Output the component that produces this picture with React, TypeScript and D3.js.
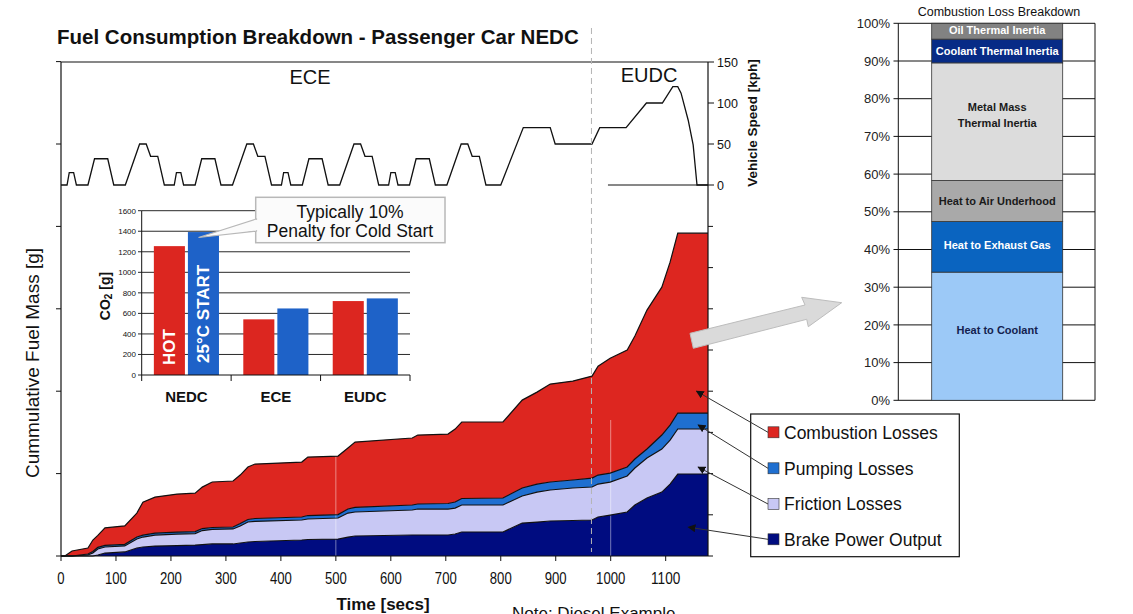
import React from 'react';
import * as d3 from 'd3';

const FONT = "'Liberation Sans', Arial, Helvetica, sans-serif";

// ---- Main chart: cumulative fuel mass breakdown (time [s], layer mass in chart units)
const times = [0, 7, 20, 49, 58, 67, 80, 116, 138, 149, 171, 211, 244, 257, 275, 313, 326, 340, 353, 438, 449, 504, 522, 535, 639, 649, 704, 717, 729, 804, 839, 866, 890, 931, 966, 977, 999, 1030, 1044, 1066, 1093, 1108, 1122, 1177];
const brakePower = [0, 0, 0, 0, 0, 1.2, 3.6, 4.9, 9.7, 10.9, 12.1, 12.7, 13.3, 13.9, 14.6, 14.6, 15.8, 17.0, 17.6, 19.4, 20.0, 20.6, 23.0, 24.3, 25.5, 25.5, 25.5, 26.7, 29.1, 29.1, 40.0, 41.2, 42.5, 43.1, 43.7, 47.3, 49.7, 53.4, 61.9, 70.4, 77.6, 87.3, 99.5, 99.5];
const frictionLosses = [0, 0, 0, 1.2, 3.6, 7.3, 7.3, 7.3, 10.9, 12.1, 13.3, 13.9, 13.9, 17.0, 17.6, 18.2, 20.6, 24.3, 24.3, 24.3, 24.9, 25.5, 29.1, 29.1, 30.3, 31.5, 31.5, 31.5, 32.8, 32.8, 32.8, 36.4, 37.6, 39.4, 40.0, 40.0, 40.0, 43.7, 44.9, 48.5, 52.2, 53.4, 54.6, 54.6];
const pumpingLosses = [0, 0, 0, 1.2, 1.8, 2.0, 2.0, 2.0, 2.4, 2.4, 2.4, 2.4, 2.4, 2.4, 2.4, 2.4, 3.0, 3.0, 3.6, 3.6, 4.2, 4.2, 4.9, 5.5, 6.1, 6.1, 6.7, 7.3, 7.9, 8.5, 9.7, 9.7, 9.7, 9.7, 10.9, 10.9, 10.9, 10.9, 10.9, 10.9, 17.0, 18.2, 19.4, 19.4];
const combustionLosses = [0, 0, 6.1, 7.3, 14.0, 14.6, 21.2, 22.4, 29.1, 40.0, 43.7, 46.1, 46.7, 50.3, 55.2, 55.8, 58.8, 63.7, 66.1, 66.7, 71.0, 71.0, 74.0, 79.4, 81.3, 83.7, 84.3, 88.5, 92.8, 92.2, 106.7, 111.6, 118.9, 120.1, 123.7, 132.2, 139.5, 141.9, 149.2, 168.6, 179.5, 197.7, 218.3, 218.3];

const seriesKeys = ['brake', 'friction', 'pumping', 'combustion'];
const seriesNames = ['Brake Power Output', 'Friction Losses', 'Pumping Losses', 'Combustion Losses'];
const seriesColors = ['#000C80', '#C8C8F4', '#1F6FD0', '#DD2620'];

// ---- Vehicle speed profile (NEDC)
const speedTime = [0, 11, 15, 23, 28, 49, 61, 85, 96, 117, 143, 155, 163, 176, 188, 195,
  206, 210, 218, 223, 244, 256, 280, 291, 312, 338, 350, 358, 371, 383, 390,
  401, 405, 413, 418, 439, 451, 475, 486, 507, 533, 545, 553, 566, 578, 585,
  596, 600, 608, 613, 634, 646, 670, 681, 702, 728, 740, 748, 761, 773, 780,
  800, 841, 890, 899, 966, 980, 1028, 1065, 1094, 1113, 1122, 1128, 1141, 1150, 1157, 1177];
const speedKph = [0, 0, 15, 15, 0, 0, 32, 32, 0, 0, 50, 50, 35, 35, 0, 0,
  0, 15, 15, 0, 0, 32, 32, 0, 0, 50, 50, 35, 35, 0, 0,
  0, 15, 15, 0, 0, 32, 32, 0, 0, 50, 50, 35, 35, 0, 0,
  0, 15, 15, 0, 0, 32, 32, 0, 0, 50, 50, 35, 35, 0, 0,
  0, 70, 70, 50, 50, 70, 70, 100, 100, 120, 120, 112, 79, 49, 0, 0];
const speedTicks = [0, 50, 100, 150];
const timeTicks = [0, 100, 200, 300, 400, 500, 600, 700, 800, 900, 1000, 1100];
const cycleBoundary = 965;
const gridTimes = [500, 1000];

// ---- Inset: CO2 per cycle
const co2Cycles = ['NEDC', 'ECE', 'EUDC'];
const co2Hot = [1255, 542, 720];
const co2Cold = [1392, 648, 746];
const co2Ticks = [0, 200, 400, 600, 800, 1000, 1200, 1400, 1600];

// ---- Right: combustion loss breakdown (%)
const lossCategories = ['Heat to Coolant', 'Heat to Exhaust Gas', 'Heat to Air Underhood', 'Metal Mass Thermal Inertia', 'Coolant Thermal Inertia', 'Oil Thermal Inertia'];
const lossShares = [34.0, 13.4, 10.9, 31.2, 6.3, 4.2];
const lossLabelLines = [['Heat to Coolant'], ['Heat to Exhaust Gas'], ['Heat to Air Underhood'], ['Metal Mass', 'Thermal Inertia'], ['Coolant Thermal Inertia'], ['Oil Thermal Inertia']];
const lossColors = ['#9CC9F7', '#0A64C0', '#A9A9A9', '#DCDCDC', '#072B86', '#828282'];
const lossTextColors = ['#14224F', '#FFFFFF', '#1A1A1A', '#1A1A1A', '#FFFFFF', '#FFFFFF'];
const lossLabelDy = [-6, -2, 0, -7, 0, -1];
const pctTicks = [0, 10, 20, 30, 40, 50, 60, 70, 80, 90, 100];

// legend order & leader targets (time, mass)
const legendOrder = [3, 2, 1, 0];
const leaderTargets = [[1156, 200], [1159, 159], [1159, 108], [1141, 35]];

function narrowLen(s: string, fs: number) {
  return s.length * 0.556 * fs * 0.82;
}

export default function App() {
  const x = d3.scaleLinear().domain([0, 1177]).range([61, 708]);
  const yM = d3.scaleLinear().domain([0, 600]).range([556, 61.6]);
  const yS = d3.scaleLinear().domain([0, 150]).range([185, 62]);

  const rows = times.map((t, i) => ({
    t,
    brake: brakePower[i],
    friction: frictionLosses[i],
    pumping: pumpingLosses[i],
    combustion: combustionLosses[i],
  }));
  const stacked = d3.stack<any>().keys(seriesKeys)(rows as any);
  const area = d3.area<any>().x((d: any) => x(d.data.t)).y0((d: any) => yM(d[0])).y1((d: any) => yM(d[1]));
  const topLine = d3.line<any>().x((d: any) => x(d.data.t)).y((d: any) => yM(d[1]));

  const speedLine = d3.line<number>().x((_, i) => x(speedTime[i])).y((v) => yS(v));

  // inset scales
  const xb = d3.scaleBand().domain(co2Cycles).range([141.7, 410]);
  const xi = d3.scaleBand().domain(['hot', 'cold']).range([0, xb.bandwidth()]).paddingInner(0.088).paddingOuter(0.357);
  const yc = d3.scaleLinear().domain([0, 1600]).range([375, 210.7]);

  // right bar scales
  const yP = d3.scaleLinear().domain([0, 100]).range([400.3, 23.3]);
  const cum = Array.from(d3.cumsum(lossShares));
  const barX0 = 931.7, barX1 = 1062.7;

  const legendY = [432.3, 468.3, 504, 539.3];

  return (
    <svg width={1133} height={614} style={{ position: 'absolute', left: 0, top: 0, background: '#fff' }} fontFamily={FONT}>
      <defs>
        <marker id="ah" viewBox="0 0 10 10" refX="9" refY="5" markerWidth="8" markerHeight="8" orient="auto-start-reverse" markerUnits="userSpaceOnUse">
          <path d="M0,0 L10,5 L0,10 z" fill="#111" />
        </marker>
      </defs>
      <rect x={0} y={0} width={1133} height={614} fill="#fff" />

      {/* title */}
      <text x={57} y={44} fontSize={20.5} fontWeight="bold" fill="#111">Fuel Consumption Breakdown - Passenger Car NEDC</text>

      {/* stacked areas */}
      {stacked.map((s: any, i: number) => (
        <path key={seriesKeys[i]} d={area(s) || ''} fill={seriesColors[i]} />
      ))}
      {gridTimes.map((t) => (
        <line key={t} x1={x(t)} x2={x(t)} y1={420} y2={556} stroke="#fff" strokeOpacity={0.45} strokeWidth={1} />
      ))}
      {stacked.map((s: any, i: number) => (
        <path key={'l' + seriesKeys[i]} d={topLine(s) || ''} fill="none" stroke="#111" strokeWidth={1.2} />
      ))}

      {/* speed profile */}
      <path d={speedLine(speedKph) || ''} fill="none" stroke="#111" strokeWidth={1.3} />
      <line x1={x(995)} x2={x(1177)} y1={yS(0)} y2={yS(0)} stroke="#111" strokeWidth={1} />
      <line x1={61} x2={708} y1={62} y2={62} stroke="#111" strokeWidth={1.2} />
      <text x={310} y={84} fontSize={20} textAnchor="middle" fill="#111">ECE</text>
      <text x={649} y={82} fontSize={20} textAnchor="middle" fill="#111">EUDC</text>

      {/* cycle boundary dashed line */}
      <line x1={x(cycleBoundary)} x2={x(cycleBoundary)} y1={28} y2={552} stroke="#B4B4B4" strokeWidth={1} strokeDasharray="6,4" />

      {/* axes */}
      <line x1={61} x2={61} y1={62} y2={556} stroke="#111" strokeWidth={1.2} />
      <line x1={708} x2={708} y1={62} y2={556} stroke="#111" strokeWidth={1.2} />
      <line x1={61} x2={708} y1={556} y2={556} stroke="#111" strokeWidth={1.2} />
      {d3.range(0, 601, 100).map((v) => (
        <line key={'lt' + v} x1={56} x2={61} y1={yM(v)} y2={yM(v)} stroke="#111" strokeWidth={1} />
      ))}
      {d3.range(0, 401, 50).map((v) => (
        <line key={'rt' + v} x1={708} x2={713} y1={yM(v)} y2={yM(v)} stroke="#111" strokeWidth={1} />
      ))}
      {speedTicks.map((v) => (
        <g key={'st' + v}>
          <line x1={708} x2={714} y1={yS(v)} y2={yS(v)} stroke="#111" strokeWidth={1} />
          <text x={717} y={yS(v)} dy="0.36em" fontSize={12.5} fill="#111">{v}</text>
        </g>
      ))}
      {timeTicks.map((t) => (
        <g key={'xt' + t}>
          <line x1={x(t)} x2={x(t)} y1={556} y2={561} stroke="#111" strokeWidth={1} />
          <text x={x(t)} y={584} fontSize={16} textAnchor="middle" fill="#111"
            textLength={narrowLen(String(t), 16)} lengthAdjust="spacingAndGlyphs">{t}</text>
        </g>
      ))}
      <text x={383} y={610} fontSize={17} fontWeight="bold" textAnchor="middle" fill="#111">Time [secs]</text>
      <text transform="translate(39,363) rotate(-90)" fontSize={19} textAnchor="middle" fill="#111">Cummulative Fuel Mass [g]</text>
      <text transform="translate(757,123) rotate(-90)" fontSize={13.5} fontWeight="bold" textAnchor="middle" fill="#111">Vehicle Speed [kph]</text>

      {/* inset CO2 chart */}
      {co2Ticks.filter((v) => v > 0).map((v) => (
        <line key={'cg' + v} x1={141.7} x2={410} y1={yc(v)} y2={yc(v)} stroke="#111" strokeWidth={0.9} />
      ))}
      {co2Cycles.map((c, i) => (
        <g key={c}>
          <rect x={(xb(c) as number) + (xi('hot') as number)} y={yc(co2Hot[i])} width={xi.bandwidth()} height={yc(0) - yc(co2Hot[i])} fill="#DC2620" />
          <rect x={(xb(c) as number) + (xi('cold') as number)} y={yc(co2Cold[i])} width={xi.bandwidth()} height={yc(0) - yc(co2Cold[i])} fill="#1E62C8" />
          <text x={(xb(c) as number) + xb.bandwidth() / 2} y={402} fontSize={15} fontWeight="bold" textAnchor="middle" fill="#111">{c}</text>
        </g>
      ))}
      <text transform={`translate(${(xb('NEDC') as number) + (xi('hot') as number) + xi.bandwidth() / 2 + 6},365) rotate(-90)`} fontSize={17} fontWeight="bold" fill="#fff">HOT</text>
      <text transform={`translate(${(xb('NEDC') as number) + (xi('cold') as number) + xi.bandwidth() / 2 + 6},363) rotate(-90)`} fontSize={17} fontWeight="bold" fill="#fff">25°C START</text>
      <line x1={141.7} x2={141.7} y1={yc(1600)} y2={yc(0)} stroke="#111" strokeWidth={1} />
      <line x1={141.7} x2={410} y1={yc(0)} y2={yc(0)} stroke="#111" strokeWidth={1} />
      {co2Ticks.map((v) => (
        <g key={'ct' + v}>
          <line x1={138} x2={141.7} y1={yc(v)} y2={yc(v)} stroke="#111" strokeWidth={0.9} />
          <text x={136} y={yc(v)} dy="0.35em" fontSize={8} textAnchor="end" fill="#111">{v}</text>
        </g>
      ))}
      {[...co2Cycles.map((c) => xb(c) as number), 410].map((bx, i) => (
        <line key={'cx' + i} x1={bx} x2={bx} y1={375} y2={381} stroke="#111" strokeWidth={1} />
      ))}
      <text transform="translate(110,296) rotate(-90)" fontSize={14} fontWeight="bold" textAnchor="middle" fill="#111">
        CO<tspan fontSize={10} dy={2}>2</tspan><tspan dy={-2}> [g]</tspan>
      </text>

      {/* callout */}
      <rect x={255.7} y={197.3} width={189.3} height={45.4} fill="#FBFBFB" stroke="#B8B8B8" strokeWidth={1.5} />
      <polygon points="198.5,237.5 256.5,219 256.5,231" fill="#FBFBFB" stroke="#B8B8B8" strokeWidth={1.2} />
      <rect x={254.5} y={219.8} width={3.5} height={10.4} fill="#FBFBFB" />
      <text x={350} y={218.3} fontSize={17.5} textAnchor="middle" fill="#111">Typically 10%</text>
      <text x={350} y={236.8} fontSize={17.5} textAnchor="middle" fill="#111">Penalty for Cold Start</text>

      {/* big arrow */}
      <polygon points="690,333.3 805,305 801.7,297.3 841.7,302.7 808.3,326.7 806.7,319.3 693.3,348.3" fill="#DADADA" stroke="#BDBDBD" strokeWidth={1} />

      {/* legend */}
      <rect x={750.7} y={414} width={208.6} height={142.7} fill="#fff" stroke="#111" strokeWidth={1.2} />
      {legendOrder.map((si, k) => (
        <g key={'lg' + si}>
          <line x1={x(leaderTargets[k][0])} y1={yM(leaderTargets[k][1])} x2={768} y2={legendY[k]} stroke="#333" strokeWidth={1} markerStart="url(#ah)" />
          <rect x={768} y={legendY[k] - 5.5} width={11} height={11} fill={seriesColors[si]} stroke="#333" strokeWidth={0.6} />
          <text x={784} y={legendY[k] + 6.2} fontSize={17.5} fill="#111">{seriesNames[si]}</text>
        </g>
      ))}

      {/* right: combustion loss breakdown */}
      <text x={999} y={16} fontSize={12.5} textAnchor="middle" fill="#111">Combustion Loss Breakdown</text>
      {pctTicks.map((p) => (
        <g key={'pt' + p}>
          <line x1={893.5} x2={1095} y1={yP(p)} y2={yP(p)} stroke="#111" strokeWidth={1} />
          <text x={890} y={yP(p)} dy="0.36em" fontSize={13} textAnchor="end" fill="#222">{p}%</text>
        </g>
      ))}
      <line x1={898.3} x2={898.3} y1={yP(100)} y2={yP(0)} stroke="#111" strokeWidth={1} />
      <line x1={1095} x2={1095} y1={yP(100)} y2={yP(0)} stroke="#111" strokeWidth={1} />
      {lossCategories.map((c, i) => {
        const lo = i === 0 ? 0 : cum[i - 1];
        const hi = cum[i];
        const mid = (yP(lo) + yP(hi)) / 2 + lossLabelDy[i];
        const lines = lossLabelLines[i];
        return (
          <g key={c}>
            <rect x={barX0} y={yP(hi)} width={barX1 - barX0} height={yP(lo) - yP(hi)} fill={lossColors[i]} stroke="#333" strokeWidth={0.8} />
            {lines.map((ln, j) => (
              <text key={j} x={(barX0 + barX1) / 2} y={mid + 4 + (j - (lines.length - 1) / 2) * 16} fontSize={11} fontWeight="bold" textAnchor="middle" fill={lossTextColors[i]}>{ln}</text>
            ))}
          </g>
        );
      })}

      {/* footnote (cut off at the bottom edge, as in the source image) */}
      <text x={512} y={619} fontSize={17} fill="#111">Note: Diesel Example</text>
    </svg>
  );
}
